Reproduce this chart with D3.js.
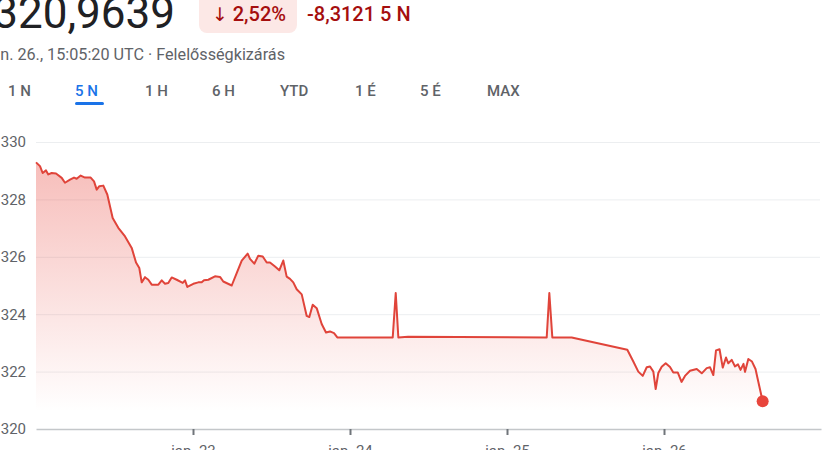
<html>
<head>
<meta charset="utf-8">
<script src="https://d3js.org/d3.v7.min.js"></script>
<style>
    body { margin: 0; background: #fff; }
    svg { display: block; font-family: Roboto, "Noto Sans", Arial, sans-serif; }
    .tab { font-size: 15px; font-weight: 500; fill: #5f6368; }
    .tab.on { fill: #1a73e8; }
</style>
</head>
<body>
<svg width="825" height="450"></svg>
<script>
    // hours after 22 Jan 2026 00:00 UTC, and the price at that moment
    var startTime = Date.UTC(2026, 0, 22);
    var hours = [0, 0.61, 1.02, 1.53, 1.88, 2.40, 3.06, 3.93, 4.43, 5.20, 5.81, 6.22, 6.83, 7.49, 8.36, 8.87,
        9.28, 9.68, 10.29, 10.90, 11.72, 12.58, 13.61, 14.63, 15.29, 15.79, 16.16, 16.66, 17.17, 17.69, 18.70,
        19.22, 19.72, 20.22, 20.74, 21.51, 22.43, 22.78, 23.13, 24.05, 24.81, 25.33, 25.68, 26.34, 27.36, 28.13,
        28.63, 29.92, 30.68, 31.45, 32.36, 32.71, 33.37, 33.98, 34.66, 35.27, 35.77, 36.54, 37.19, 37.80, 38.32,
        38.83, 39.33, 39.85, 40.62, 41.38, 41.78, 42.30, 42.91, 43.67, 44.33, 44.94, 45.56, 46.06, 54.53, 54.99,
        55.39, 56.87, 78.07, 78.47, 78.93, 81.89, 90.39, 91.31, 92.07, 92.75, 93.36, 93.86, 94.37, 94.73, 95.13,
        95.65, 96.26, 96.92, 97.42, 98.10, 98.68, 99.21, 99.98, 101.00, 101.77, 102.53, 103.04, 103.54, 103.95,
        104.49, 104.98, 105.48, 105.83, 106.35, 106.86, 107.31, 107.70, 108.15, 108.38, 108.89, 109.45, 109.99,
        110.29, 111.08];
    var prices = [329.29, 329.16, 328.92, 329.01, 328.87, 328.92, 328.90, 328.75, 328.58, 328.69, 328.76, 328.72,
        328.83, 328.76, 328.76, 328.63, 328.34, 328.46, 328.48, 328.17, 327.35, 327.01, 326.71, 326.31, 325.80,
        325.61, 325.11, 325.29, 325.20, 325.03, 325.03, 325.18, 325.06, 325.09, 325.28, 325.20, 325.09, 325.18,
        324.95, 325.06, 325.11, 325.11, 325.18, 325.20, 325.32, 325.30, 325.14, 325.00, 325.43, 325.87, 326.11,
        325.93, 325.76, 326.04, 326.01, 325.80, 325.80, 325.66, 325.53, 325.87, 325.31, 325.23, 325.11, 324.87,
        324.69, 323.94, 323.90, 324.33, 324.21, 323.66, 323.36, 323.40, 323.34, 323.19, 323.19, 324.74, 323.19,
        323.21, 323.19, 324.74, 323.19, 323.19, 322.76, 322.35, 322.00, 321.85, 322.15, 322.18, 322.00, 321.39,
        321.95, 322.17, 322.29, 322.16, 321.97, 321.97, 321.64, 321.85, 322.03, 322.09, 321.94, 322.12, 322.15,
        321.88, 322.74, 322.78, 322.14, 322.49, 322.29, 322.41, 322.18, 322.25, 322.06, 322.27, 321.99, 322.44,
        322.35, 322.09, 321.78, 320.9639];

    var yTicks = [320, 322, 324, 326, 328, 330];
    var tickDays = [23, 24, 25, 26];
    var tickLabels = ["jan. 23", "jan. 24", "jan. 25", "jan. 26"];
    var ranges = ["1 N", "5 N", "1 H", "6 H", "YTD", "1 É", "5 É", "MAX"];
    var rangeX = [8, 75, 145, 212, 280, 355, 420, 487];

    var data = hours.map(function (h, i) {
        return { t: new Date(startTime + h * 3600000), p: prices[i] };
    });

    var svg = d3.select("svg");

    // header
    svg.append("text").attr("x", 175).attr("y", 28).attr("text-anchor", "end")
        .style("font-size", "44px").style("fill", "#202124").text("320,9639");
    svg.append("rect").attr("x", 199).attr("y", -8).attr("width", 98).attr("height", 41)
        .attr("rx", 8).attr("fill", "#fce8e6");
    svg.append("text").attr("x", 212).attr("y", 21)
        .style("font-size", "19px").style("fill", "#a50e0e")
        .style("font-family", "'DejaVu Sans', sans-serif").text("↓");
    svg.append("text").attr("x", 286).attr("y", 21).attr("text-anchor", "end")
        .style("font-size", "20px").style("font-weight", 500).style("fill", "#a50e0e").text("2,52%");
    svg.append("text").attr("x", 307).attr("y", 21)
        .style("font-size", "20px").style("font-weight", 500).style("fill", "#a50e0e").text("-8,3121 5 N");
    svg.append("text").attr("x", 285).attr("y", 60).attr("text-anchor", "end")
        .style("font-size", "16.2px").style("fill", "#5f6368")
        .text("jan. 26., 15:05:20 UTC · Felelősségkizárás");

    svg.selectAll("text.tab").data(ranges).enter().append("text")
        .attr("class", function (d) { return d == "5 N" ? "tab on" : "tab"; })
        .attr("x", function (d, i) { return rangeX[i]; })
        .attr("y", 96)
        .text(function (d) { return d; });
    svg.append("rect").attr("x", 75).attr("y", 102).attr("width", 29).attr("height", 3)
        .attr("rx", 1.5).attr("fill", "#1a73e8");

    // chart
    var xs = d3.scaleUtc().domain([new Date(startTime), new Date(Date.UTC(2026, 0, 27))]).range([36, 821]);
    var ys = d3.scaleLinear().domain([320, 330]).range([429, 142]);

    var grid = svg.append("g").attr("transform", "translate(36,0)")
        .call(d3.axisLeft(ys).tickValues(yTicks.slice(1)).tickSize(-784).tickFormat(""));
    grid.select(".domain").remove();
    grid.selectAll("line").attr("stroke", "#eceef0");

    var yAxis = svg.append("g").attr("transform", "translate(26,0)")
        .call(d3.axisLeft(ys).tickValues(yTicks).tickSize(0).tickPadding(0));
    yAxis.select(".domain").remove();
    yAxis.selectAll("text").style("font-size", "15px").style("fill", "#5f6368")
        .style("font-family", "Roboto, sans-serif");

    var grad = svg.append("defs").append("linearGradient").attr("id", "fade")
        .attr("gradientUnits", "userSpaceOnUse").attr("x1", 0).attr("x2", 0)
        .attr("y1", ys(329.5)).attr("y2", ys(320.6));
    grad.append("stop").attr("offset", 0).attr("stop-color", "#e8453c").attr("stop-opacity", 0.36);
    grad.append("stop").attr("offset", 1).attr("stop-color", "#e8453c").attr("stop-opacity", 0);

    svg.append("path").datum(data)
        .attr("fill", "url(#fade)")
        .attr("d", d3.area().x(function (d) { return xs(d.t); }).y0(ys(320)).y1(function (d) { return ys(d.p); }));

    var xAxis = svg.append("g").attr("transform", "translate(0," + ys(320) + ")")
        .call(d3.axisBottom(xs)
            .tickValues(tickDays.map(function (d) { return new Date(Date.UTC(2026, 0, d)); }))
            .tickFormat(function (d, i) { return tickLabels[i]; })
            .tickSizeInner(6).tickSizeOuter(0).tickPadding(10));
    xAxis.select(".domain").attr("stroke", "#c4c7ca").attr("stroke-width", 1.6);
    xAxis.selectAll(".tick line").attr("stroke", "#70757a").attr("stroke-width", 2);
    xAxis.selectAll("text").style("font-size", "15px").style("fill", "#5f6368")
        .style("font-family", "Roboto, sans-serif");

    svg.append("path").datum(data)
        .attr("fill", "none").attr("stroke", "#e0443a").attr("stroke-width", 2)
        .attr("stroke-linejoin", "round")
        .attr("d", d3.line().x(function (d) { return xs(d.t); }).y(function (d) { return ys(d.p); }));

    var last = data[data.length - 1];
    svg.append("circle").attr("cx", xs(last.t)).attr("cy", ys(last.p)).attr("r", 6).attr("fill", "#e8453c");
</script>
</body>
</html>
